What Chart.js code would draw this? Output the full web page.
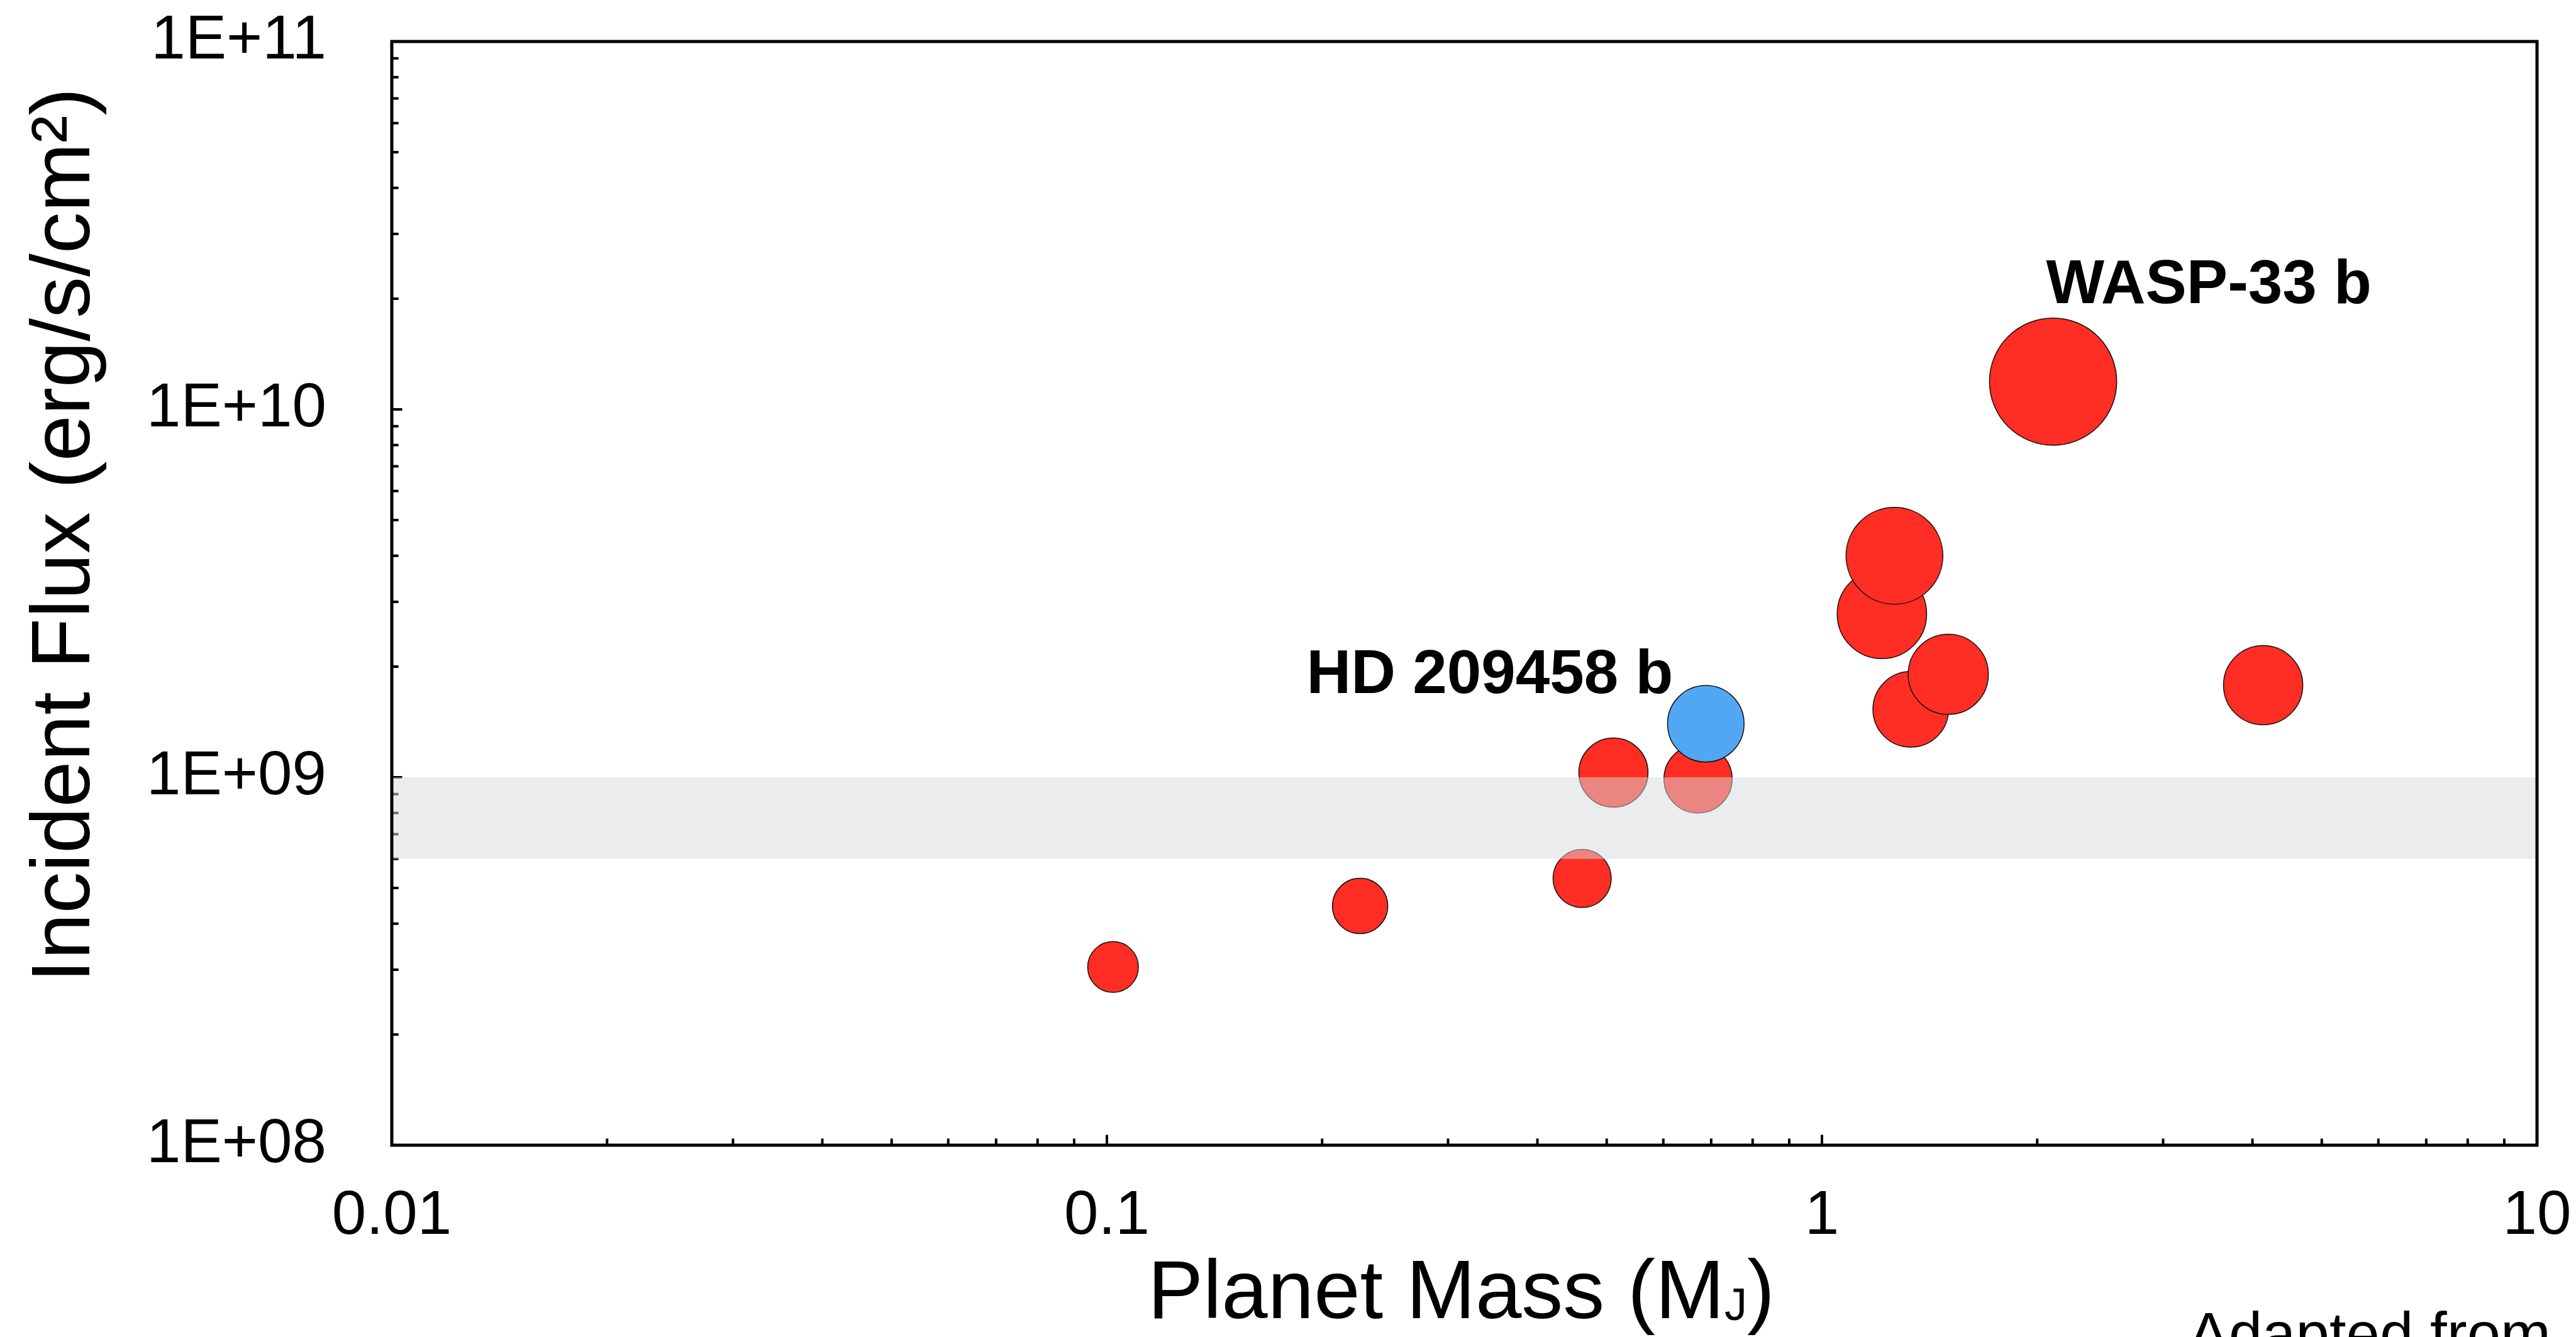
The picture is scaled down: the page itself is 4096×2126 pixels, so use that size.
<!DOCTYPE html>
<html lang="en">
<head>
<meta charset="UTF-8" />
<title>Incident flux vs planet mass</title>
<script src="https://cdn.jsdelivr.net/npm/chart.js@4"></script>
<style>
  html, body { margin: 0; padding: 0; background: #fff; }
  #wrap { width: 4096px; height: 2126px; position: relative; }
</style>
</head>
<body>
<div id="wrap"><canvas id="chart"></canvas></div>
<script>
  const S = 0.733;   // scale of this page relative to the reference figure
  const FONT = "'Liberation Sans', Arial, Helvetica, sans-serif";

  // planets: mass (M_J), incident flux (erg/s/cm2), marker size
  const planetMass = [0.102, 0.226, 0.462, 0.511, 0.671, 1.213, 1.263, 1.331, 1.502, 2.105, 4.14];
  const planetFlux = [3.05e8, 4.47e8, 5.31e8, 1.03e9, 9.9e8, 2.78e9, 4.0e9, 1.53e9, 1.905e9, 1.19e10, 1.78e9];
  const planetSize = [55, 60, 63, 75, 74, 97, 105, 82, 87, 138, 86];
  const planetLabel = ['', '', '', '', '', '', '', '', '', 'WASP-33 b', ''];

  const hdMass = [0.688];
  const hdFlux = [1.398e9];
  const hdSize = [83];
  const hdLabel = ['HD 209458 b'];

  const bandFlux = [6e8, 1e9];

  const xTickValues = [0.01, 0.1, 1, 10];
  const xTickLabels = ['0.01', '0.1', '1', '10'];
  const yTickValues = [1e8, 1e9, 1e10, 1e11];
  const yTickLabels = ['1E+08', '1E+09', '1E+10', '1E+11'];

  function points(mass, flux, size, label) {
    return mass.map((m, i) => ({ x: m, y: flux[i], r: size[i] * S, label: label[i] }));
  }

  // minor ticks 2..9 in every decade
  function minorTicks(decades) {
    const out = [];
    for (let i = 0; i < decades.length - 1; i++) {
      for (let k = 2; k <= 9; k++) out.push(decades[i] * k);
    }
    return out;
  }

  const overlay = {
    id: 'overlay',
    afterDraw(chart) {
      const { ctx, chartArea: a, scales: { x, y } } = chart;
      ctx.save();

      // inward tick marks
      ctx.strokeStyle = '#000';
      ctx.lineWidth = 4;
      ctx.beginPath();
      minorTicks(xTickValues).forEach(v => {
        const px = x.getPixelForValue(v);
        ctx.moveTo(px, a.bottom); ctx.lineTo(px, a.bottom - 10.6);
      });
      xTickValues.slice(1, -1).forEach(v => {
        const px = x.getPixelForValue(v);
        ctx.moveTo(px, a.bottom); ctx.lineTo(px, a.bottom - 16.5);
      });
      minorTicks(yTickValues).forEach(v => {
        const py = y.getPixelForValue(v);
        ctx.moveTo(a.left, py); ctx.lineTo(a.left + 10.6, py);
      });
      yTickValues.slice(1, -1).forEach(v => {
        const py = y.getPixelForValue(v);
        ctx.moveTo(a.left, py); ctx.lineTo(a.left + 16.5, py);
      });
      ctx.stroke();

      // translucent band
      const yTop = y.getPixelForValue(bandFlux[1]);
      const yBot = y.getPixelForValue(bandFlux[0]);
      ctx.fillStyle = 'rgba(216,218,222,0.51)';
      ctx.fillRect(a.left, yTop, a.right - a.left, yBot - yTop);

      // frame
      ctx.lineWidth = 5;
      ctx.lineJoin = 'miter';
      ctx.strokeRect(a.left, a.top, a.right - a.left, a.bottom - a.top);

      // planet labels
      ctx.fillStyle = '#000';
      ctx.font = 'bold 98px ' + FONT;
      ctx.textBaseline = 'alphabetic';
      chart.data.datasets.forEach((ds, di) => {
        const meta = chart.getDatasetMeta(di);
        ds.data.forEach((p, i) => {
          if (!p.label) return;
          const el = meta.data[i];
          if (di === 0) {
            ctx.textAlign = 'right';
            ctx.fillText(p.label, el.x - 52, el.y - 49);
          } else {
            ctx.textAlign = 'left';
            ctx.fillText(p.label, el.x - 11, el.y - p.r - 24);
          }
        });
      });

      // y axis title
      ctx.save();
      ctx.translate(141.5, 851);
      ctx.rotate(-Math.PI / 2);
      ctx.textAlign = 'center';
      ctx.font = '132px ' + FONT;
      ctx.fillText('Incident Flux (erg/s/cm\u00B2)', 0, 0);
      ctx.restore();

      // x axis title with subscript J
      ctx.textAlign = 'left';
      ctx.font = '132px ' + FONT;
      let tx = 1825;
      const main = 'Planet Mass (M';
      ctx.fillText(main, tx, 2096);
      tx += ctx.measureText(main).width;
      ctx.font = '72px ' + FONT;
      ctx.fillText('J', tx, 2099);
      tx += ctx.measureText('J').width;
      ctx.font = '132px ' + FONT;
      ctx.fillText(')', tx, 2096);

      // source note
      ctx.textAlign = 'right';
      ctx.font = '96px ' + FONT;
      ctx.fillText('Adapted from', 4056, 2154);

      ctx.restore();
    }
  };

  new Chart(document.getElementById('chart'), {
    type: 'bubble',
    data: {
      datasets: [
        {
          label: 'HD 209458 b',
          data: points(hdMass, hdFlux, hdSize, hdLabel),
          backgroundColor: '#52a7f5',
          borderColor: '#111',
          borderWidth: 1.5
        },
        {
          label: 'Planets',
          data: points(planetMass, planetFlux, planetSize, planetLabel),
          backgroundColor: '#ff2d23',
          borderColor: '#111',
          borderWidth: 1.5
        }
      ]
    },
    options: {
      responsive: true,
      maintainAspectRatio: false,
      animation: false,
      events: [],
      layout: { autoPadding: false, padding: 0 },
      plugins: {
        legend: { display: false },
        tooltip: { enabled: false }
      },
      scales: {
        x: {
          type: 'logarithmic',
          min: 0.01,
          max: 10,
          grid: { display: false, drawTicks: false },
          border: { display: false },
          afterBuildTicks: s => { s.ticks = xTickValues.map(v => ({ value: v })); },
          afterFit: s => {
            s.height = 305;
            s.paddingLeft = 0;
            s.paddingRight = 62;
          },
          ticks: {
            autoSkip: false,
            maxRotation: 0,
            padding: 55,
            color: '#000',
            font: { family: FONT, size: 98 },
            callback: (v, i) => xTickLabels[i]
          }
        },
        y: {
          type: 'logarithmic',
          min: 1e8,
          max: 1e11,
          grid: { display: false, drawTicks: false },
          border: { display: false },
          afterBuildTicks: s => { s.ticks = yTickValues.map(v => ({ value: v })); },
          afterFit: s => {
            s.width = 623;
            s.paddingTop = 66;
            s.paddingBottom = 0;
          },
          ticks: {
            autoSkip: false,
            padding: 104,
            color: '#000',
            font: { family: FONT, size: 98 },
            callback: (v, i) => yTickLabels[i]
          }
        }
      }
    },
    plugins: [overlay]
  });
</script>
</body>
</html>
